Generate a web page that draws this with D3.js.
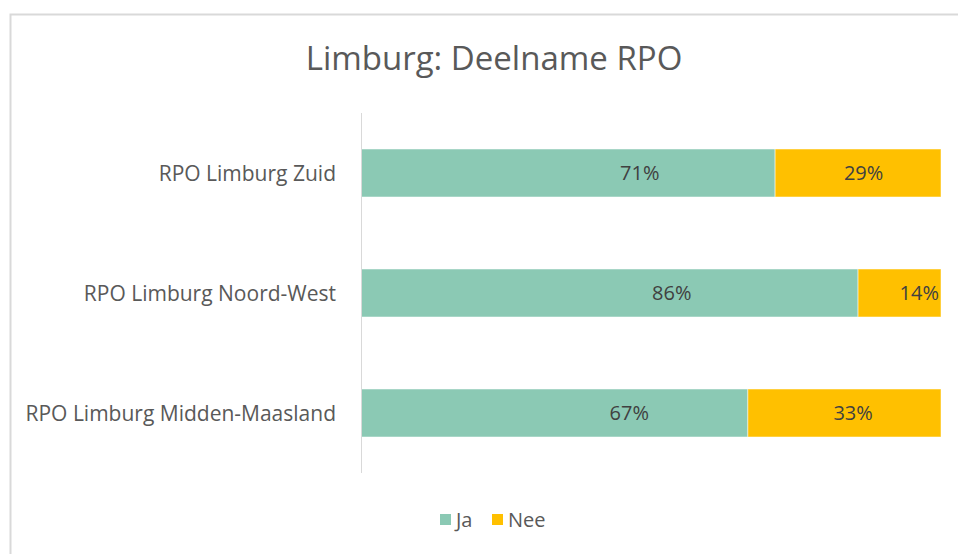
<!DOCTYPE html>
<html>
<head>
<meta charset="utf-8">
<script src="https://cdn.jsdelivr.net/npm/d3@7"></script>
<style>
  body { margin: 0; background: #fff; }
  text { font-family: "Open Sans", sans-serif; }
</style>
</head>
<body>
<div id="chart"></div>
<script>
// chart data
const categories = ["RPO Limburg Zuid", "RPO Limburg Noord-West", "RPO Limburg Midden-Maasland"];
const series = ["Ja", "Nee"];
const ja = [71.4, 85.7, 66.7];
const nee = [28.6, 14.3, 33.3];
const colors = ["#8BC9B4", "#FFC000"];

const width = 958, height = 554;
const margin = {top: 113, right: 17, bottom: 81, left: 361};

const svg = d3.select("#chart").append("svg")
    .attr("width", width)
    .attr("height", height);

// outer chart frame
svg.append("rect")
    .attr("x", 10.5).attr("y", 14.5)
    .attr("width", width + 20).attr("height", height + 20)
    .style("fill", "none")
    .style("stroke", "#d9d9d9")
    .style("stroke-width", 2);

// title
svg.append("text")
    .attr("x", 494).attr("y", 70)
    .style("text-anchor", "middle")
    .style("font-size", "33px")
    .style("fill", "#595959")
    .text("Limburg: Deelname RPO");

const x = d3.scaleLinear().domain([0, 100]).range([margin.left, width - margin.right]);
// Excel placed its value labels on a slightly shifted span
const labelX = d3.scaleLinear().domain([0, 100]).range([x(20.5), x(97.7)]);
const y = d3.scaleBand().domain(categories)
    .range([margin.top, height - margin.bottom])
    .paddingInner(0.6).paddingOuter(0.3);

// stack rows
const rows = categories.map((c, i) => ({cat: c, vals: [ja[i], nee[i]]}));
const segs = [];
rows.forEach(r => {
    let x0 = 0;
    r.vals.forEach((v, k) => {
        segs.push({cat: r.cat, k: k, x0: x0, x1: x0 + v, v: v});
        x0 += v;
    });
});

svg.selectAll(".seg").data(segs).enter().append("rect")
    .attr("class", "seg")
    .attr("x", d => x(d.x0))
    .attr("y", d => y(d.cat))
    .attr("width", d => x(d.x1) - x(d.x0))
    .attr("height", y.bandwidth())
    .style("fill", d => colors[d.k])
    .style("stroke", "#ffffff")
    .style("stroke-opacity", 0.5)
    .style("stroke-width", 1);

// value labels
svg.selectAll(".val").data(segs).enter().append("text")
    .attr("class", "val")
    .attr("x", d => (x(d.x1) - x(d.x0) < 100) ? x(d.x1) - 2 : labelX((d.x0 + d.x1) / 2))
    .attr("y", d => y(d.cat) + y.bandwidth() / 2)
    .attr("dy", "0.36em")
    .style("text-anchor", d => (x(d.x1) - x(d.x0) < 100) ? "end" : "middle")
    .style("font-size", "20px")
    .style("fill", "#404040")
    .text(d => Math.round(d.v) + "%");

// category axis
svg.append("line")
    .attr("x1", margin.left + 0.5).attr("x2", margin.left + 0.5)
    .attr("y1", margin.top).attr("y2", height - margin.bottom)
    .style("stroke", "#d9d9d9");

svg.selectAll(".cat").data(categories).enter().append("text")
    .attr("class", "cat")
    .attr("x", margin.left - 25)
    .attr("y", d => y(d) + y.bandwidth() / 2)
    .attr("dy", "0.36em")
    .style("text-anchor", "end")
    .style("font-size", "21px")
    .style("fill", "#595959")
    .text(d => d);

// legend
const legend = svg.append("g").attr("transform", "translate(440, 520)");
const lx = [0, 52];
series.forEach((s, i) => {
    legend.append("rect")
        .attr("x", lx[i]).attr("y", -6)
        .attr("width", 11).attr("height", 11)
        .style("fill", colors[i]);
    legend.append("text")
        .attr("x", lx[i] + 16).attr("y", 0)
        .attr("dy", "0.36em")
        .style("font-size", "20px")
        .style("fill", "#595959")
        .text(s);
});
</script>
</body>
</html>
